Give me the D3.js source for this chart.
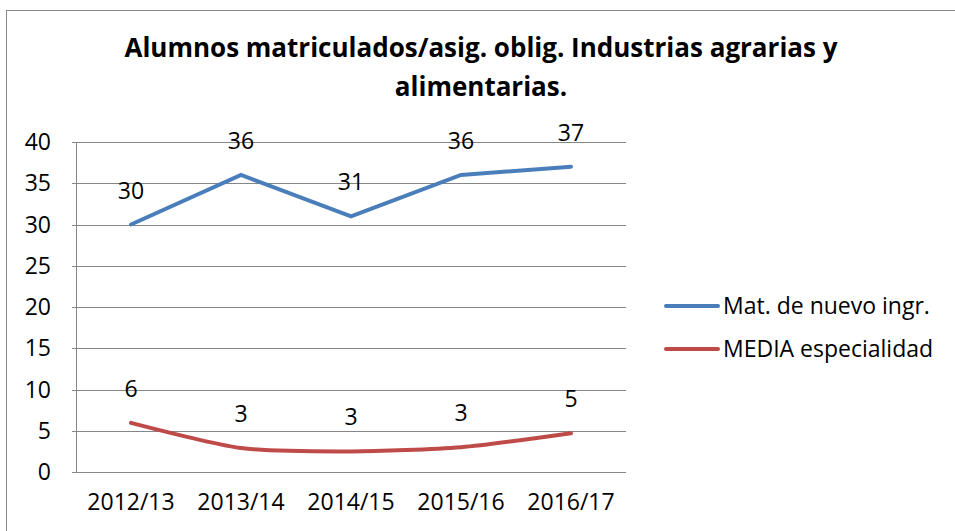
<!DOCTYPE html>
<html>
<head>
<meta charset="utf-8">
<script src="https://cdn.jsdelivr.net/npm/d3@7"></script>
<style>
  body { margin: 0; background: #fff; }
  text { font-family: "Open Sans", Lato, sans-serif; fill: #000; }
</style>
</head>
<body>
<div id="chart"></div>
<script>
const width = 955;
const height = 531;

// data
const years = ['2012/13', '2013/14', '2014/15', '2015/16', '2016/17'];
const nuevoIngreso = [30, 36, 31, 36, 37];
const mediaEspecialidad = [5.95, 2.9, 2.5, 3.0, 4.7];
const yTicks = [0, 5, 10, 15, 20, 25, 30, 35, 40];
const seriesNames = ['Mat. de nuevo ingr.', 'MEDIA especialidad'];

const margin = {left: 76, right: 329, top: 142, bottom: 59};
const fontSize = '23px';

const svg = d3.select('#chart').
append('svg').
attr('width', width).
attr('height', height);

// outer frame
svg.append('rect').
attr('x', 6.5).attr('y', 10.5).
attr('width', 960).attr('height', 540).
attr('fill', 'none').attr('stroke', '#868686');

// title
const titleLines = ['Alumnos matriculados/asig. oblig. Industrias agrarias y', 'alimentarias.'];
svg.append('g').
selectAll('text').
data(titleLines).
enter().append('text').
attr('x', 481).
attr('y', (d, i) => 57 + i * 39).
attr('text-anchor', 'middle').
style('font-size', '26px').style('font-weight', 'bold').
text(d => d);

const x = d3.scaleBand().
domain(years).
range([margin.left, width - margin.right]);

const y = d3.scaleLinear().
domain([0, 40]).
range([height - margin.bottom, margin.top]);

//gridlines
svg.append('g').
selectAll('line').
data(yTicks).
enter().append('line').
attr('x1', margin.left - 4).
attr('x2', width - margin.right).
attr('y1', d => Math.round(y(d)) + 0.5).
attr('y2', d => Math.round(y(d)) + 0.5).
attr('stroke', '#868686');

// left axis line
svg.append('line').
attr('x1', margin.left + 0.5).attr('x2', margin.left + 0.5).
attr('y1', y(40)).attr('y2', y(0)).
attr('stroke', '#868686');

// y labels
svg.append('g').
selectAll('text').
data(yTicks).
enter().append('text').
attr('x', 51).
attr('y', d => y(d)).
attr('dy', '0.35em').
attr('text-anchor', 'end').
style('font-size', fontSize).
text(d => d);

// x labels
svg.append('g').
selectAll('text').
data(years).
enter().append('text').
attr('x', d => x(d) + x.bandwidth() / 2).
attr('y', 510).
attr('text-anchor', 'middle').
style('font-size', fontSize).
text(d => d);

const cx = (d, i) => x(years[i]) + x.bandwidth() / 2;

const blueLine = d3.line().
x(cx).
y(d => y(d));

const redLine = d3.line().
x(cx).
y(d => y(d)).
curve(d3.curveCardinal.tension(0.3));

svg.append('path').
datum(nuevoIngreso).
attr('d', blueLine).
attr('fill', 'none').
attr('stroke', '#4A7EBB').
attr('stroke-width', 4).
attr('stroke-linecap', 'round');

svg.append('path').
datum(mediaEspecialidad).
attr('d', redLine).
attr('fill', 'none').
attr('stroke', '#BE4B48').
attr('stroke-width', 4).
attr('stroke-linecap', 'round');

//data labels
[nuevoIngreso, mediaEspecialidad].forEach(series => {
  svg.append('g').
  selectAll('text').
  data(series).
  enter().append('text').
  attr('x', cx).
  attr('y', d => y(d) - 34).
  attr('dy', '0.35em').
  attr('text-anchor', 'middle').
  style('font-size', fontSize).
  text(d => Math.round(d));
});

// legend
const legend = svg.append('g');
const legendColors = ['#4A7EBB', '#BE4B48'];
seriesNames.forEach((name, i) => {
  const ly = 306 + i * 43;
  legend.append('line').
  attr('x1', 666).attr('x2', 718).
  attr('y1', ly).attr('y2', ly).
  attr('stroke', legendColors[i]).
  attr('stroke-width', 4).
  attr('stroke-linecap', 'round');
  legend.append('text').
  attr('x', 723).attr('y', ly).
  attr('dy', '0.35em').
  style('font-size', fontSize).
  text(name);
});
</script>
</body>
</html>
